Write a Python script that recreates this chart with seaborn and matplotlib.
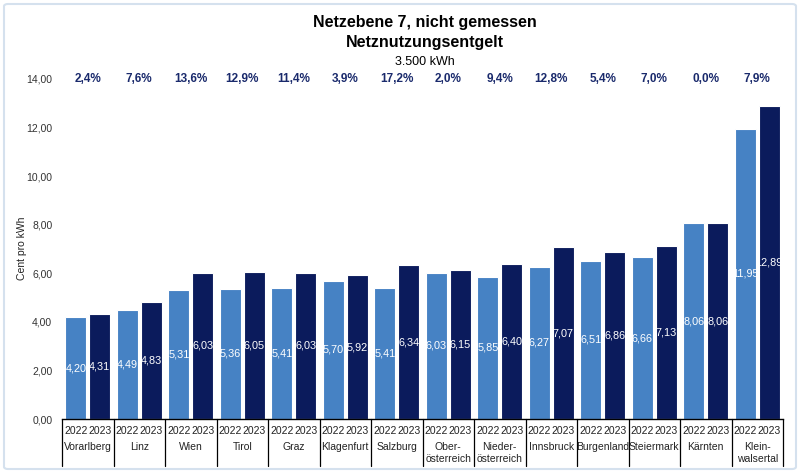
import matplotlib
matplotlib.use("Agg")
import matplotlib.pyplot as plt
import matplotlib.transforms as mtransforms
from matplotlib.patches import FancyBboxPatch
import seaborn as sns
import pandas as pd

regions = ["Vorarlberg", "Linz", "Wien", "Tirol", "Graz", "Klagenfurt", "Salzburg",
           "Ober-\nösterreich", "Nieder-\nösterreich", "Innsbruck", "Burgenland",
           "Steiermark", "Kärnten", "Klein-\nwalsertal"]
years = ["2022", "2023"]
values_2022 = [4.20, 4.49, 5.31, 5.36, 5.41, 5.70, 5.41, 6.03, 5.85, 6.27, 6.51, 6.66, 8.06, 11.95]
values_2023 = [4.31, 4.83, 6.03, 6.05, 6.03, 5.92, 6.34, 6.15, 6.40, 7.07, 6.86, 7.13, 8.06, 12.89]
changes = ["2,4%", "7,6%", "13,6%", "12,9%", "11,4%", "3,9%", "17,2%", "2,0%", "9,4%",
           "12,8%", "5,4%", "7,0%", "0,0%", "7,9%"]
yticks = [0, 2, 4, 6, 8, 10, 12, 14]

df = pd.DataFrame({
    "region": regions * 2,
    "year": [years[0]] * len(regions) + [years[1]] * len(regions),
    "value": values_2022 + values_2023,
})

sns.set_style("white")
plt.rcParams["font.family"] = ["Liberation Sans", "DejaVu Sans"]

fig = plt.figure(figsize=(8, 4.73), dpi=100)
ax = fig.add_axes([62 / 800, 1 - 419 / 473, (783 - 62) / 800, (419 - 79) / 473])

palette = {"2022": "#4682c4", "2023": "#0b1b5c"}
sns.barplot(data=df, x="region", y="value", hue="year", order=regions, hue_order=years,
            palette=palette, width=0.92, gap=0.12, edgecolor="white", linewidth=0.8,
            legend=False, ax=ax, saturation=1)

ax.set_ylim(0, 14)
ax.set_xlim(-0.5, len(regions) - 0.5)
ax.set_yticks(yticks)
ax.set_yticklabels([f"{v:.2f}".replace(".", ",") for v in yticks], fontsize=7.5, color="#333333")
ax.tick_params(axis="y", length=0, pad=7)
ax.set_xticks([])
ax.set_xlabel("")
ax.set_ylabel("")
fig.text(22 / 800, 1 - 248 / 473, "Cent pro kWh", rotation=90, ha="center", va="center",
         fontsize=7.5, color="#222222")
for s in ["top", "right", "left"]:
    ax.spines[s].set_visible(False)
ax.spines["bottom"].set_color("black")
ax.spines["bottom"].set_linewidth(1)

# value labels in bars, year labels under bars
trans = mtransforms.blended_transform_factory(ax.transData, ax.transAxes)
for k, cont in enumerate(ax.containers):
    for bar in cont:
        h = bar.get_height()
        cx = bar.get_x() + bar.get_width() / 2
        ax.text(cx, h / 2, f"{h:.2f}".replace(".", ","), ha="center", va="center",
                color="white", fontsize=7.8)
        ax.text(cx, -0.035, years[k], transform=trans, ha="center", va="center",
                fontsize=7.5, color="#222222", clip_on=False)

# region labels and separators
for i, r in enumerate(regions):
    ax.text(i, -0.068, r, transform=trans, ha="center", va="top", fontsize=7.5,
            color="#222222", linespacing=1.2, clip_on=False)
for i in range(len(regions) + 1):
    ax.plot([i - 0.5, i - 0.5], [0, -0.138], transform=trans, color="black",
            linewidth=0.9, clip_on=False)

# percentage changes
for i, c in enumerate(changes):
    ax.text(i, 14, c, ha="center", va="center", fontsize=8.5, fontweight="bold",
            color="#1a2a6c", clip_on=False)

# titles
fig.text(425 / 800, 1 - 22 / 473, "Netzebene 7, nicht gemessen", ha="center", va="center",
         fontsize=11.5, fontweight="bold", color="black")
fig.text(425 / 800, 1 - 43 / 473, "Netznutzungsentgelt", ha="center", va="center",
         fontsize=11.5, fontweight="bold", color="black")
fig.text(425 / 800, 1 - 62 / 473, "3.500 kWh", ha="center", va="center",
         fontsize=9, color="black")

# frame
frame = FancyBboxPatch((4 / 800, 4 / 473), 792 / 800, 465 / 473,
                       boxstyle="round,pad=0,rounding_size=0.005", transform=fig.transFigure,
                       facecolor="none", edgecolor="#d5e1ee", linewidth=1.5)
fig.patches.append(frame)

fig.savefig("out.png", dpi=100)
